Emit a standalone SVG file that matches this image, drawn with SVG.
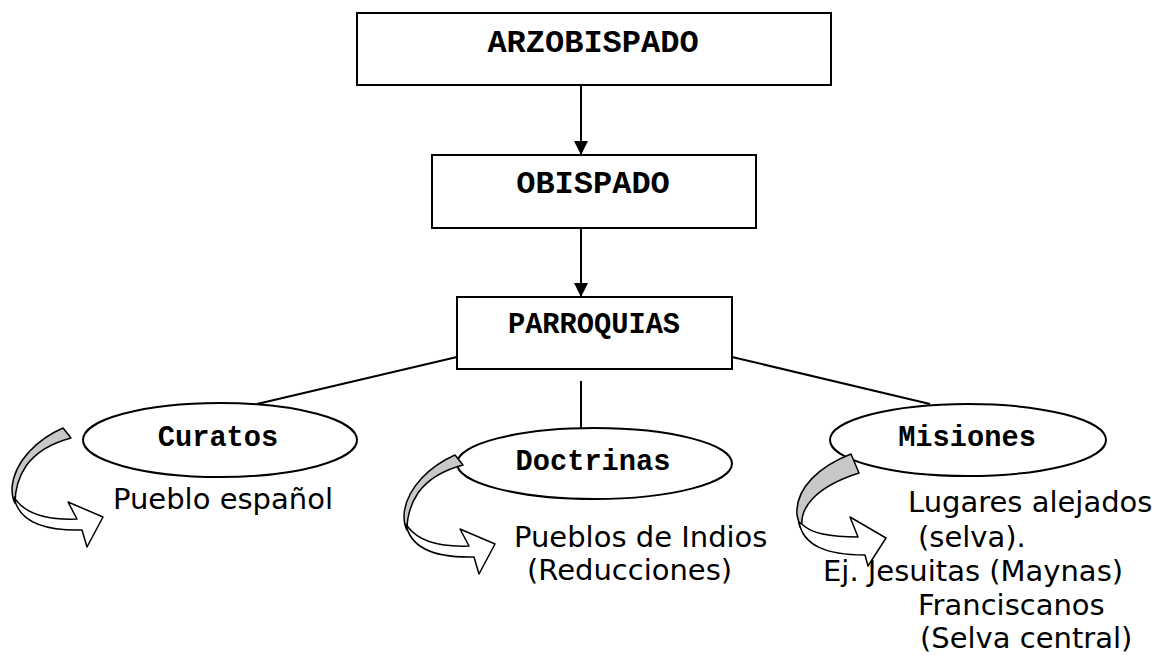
<svg xmlns="http://www.w3.org/2000/svg" width="1159" height="657" viewBox="0 0 1159 657">
<style>
.box{fill:#fff;stroke:#000;stroke-width:2}
.ell{fill:#fff;stroke:#000;stroke-width:2}
.lbl{font-family:"Liberation Mono","Courier New",monospace;font-weight:bold;fill:#000;text-anchor:middle}
.big{font-size:32px}
.sm{font-size:28.7px}
.txt{font-family:"DejaVu Sans",Verdana,sans-serif;font-size:29px;fill:#000}
.con{stroke:#000;stroke-width:2;fill:none}
.back{fill:#c8c8c8;stroke:#000;stroke-width:1.5;stroke-linejoin:round}
.front{fill:#fff;stroke:#000;stroke-width:1.5;stroke-linejoin:round}
</style>
<defs>
<marker id="ah" markerWidth="16" markerHeight="16" refX="14" refY="7" orient="auto" markerUnits="userSpaceOnUse">
<path d="M0,0 L14,7 L0,14 Z" fill="#000"/>
</marker>
<g id="curv">
<path class="back" d="M63,428 C40,438 14,460 12,488 C12,495 13,500 15,503 C15,490 18,478 26,466 C36,452 52,443 71,438 Z"/>
<path class="front" d="M14,497 C18,520 40,531 82,530 L87,547 L103,517 L68,502 L77,519 C50,520 28,516 16,500 Z"/>
</g>
</defs>
<g id="connectors">
<line class="con" x1="581" y1="85" x2="581" y2="155" marker-end="url(#ah)"/>
<line class="con" x1="581" y1="228" x2="581" y2="297" marker-end="url(#ah)"/>
<line class="con" x1="457" y1="357" x2="257" y2="404"/>
<line class="con" x1="581" y1="381" x2="581" y2="428"/>
<line class="con" x1="732" y1="357" x2="930" y2="404"/>
</g>
<g id="arzobispado">
<rect class="box" x="357" y="13" width="474" height="72"/>
<text class="lbl big" x="593" y="52">ARZOBISPADO</text>
</g>
<g id="obispado">
<rect class="box" x="432" y="155" width="324" height="73"/>
<text class="lbl big" x="593" y="193">OBISPADO</text>
</g>
<g id="parroquias">
<rect class="box" x="457" y="297" width="275" height="72"/>
<text class="lbl sm" x="594" y="333">PARROQUIAS</text>
</g>
<g id="curatos">
<ellipse class="ell" cx="220" cy="440" rx="137" ry="37"/>
<text class="lbl sm" x="218" y="446">Curatos</text>
</g>
<g id="doctrinas">
<ellipse class="ell" cx="594.5" cy="463.5" rx="137.5" ry="35.5"/>
<text class="lbl sm" x="593" y="470">Doctrinas</text>
</g>
<g id="misiones">
<ellipse class="ell" cx="968" cy="440" rx="138" ry="36"/>
<text class="lbl sm" x="967" y="446">Misiones</text>
</g>
<g id="texts">
<text class="txt" x="113" y="509">Pueblo español</text>
<text class="txt" x="514" y="547">Pueblos de Indios</text>
<text class="txt" x="527" y="580">(Reducciones)</text>
<text class="txt" x="908" y="512">Lugares alejados</text>
<text class="txt" x="918" y="547">(selva).</text>
<text class="txt" x="823" y="581">Ej. Jesuitas (Maynas)</text>
<text class="txt" x="918" y="615">Franciscanos</text>
<text class="txt" x="920" y="648">(Selva central)</text>
</g>
<g id="curved-arrows">
<use href="#curv"/>
<use href="#curv" transform="translate(392,27)"/>
<path class="back" d="M851,454 C820,466 795,488 797,515 L800,527 L802,526 C800,508 815,487 859,473 Z"/>
<path class="front" d="M799,522 C803,545 825,555 865,555 L868,566 L886,538 L850,517 L858,537 C835,537 812,534 803,525 Z"/>
</g>
</svg>
